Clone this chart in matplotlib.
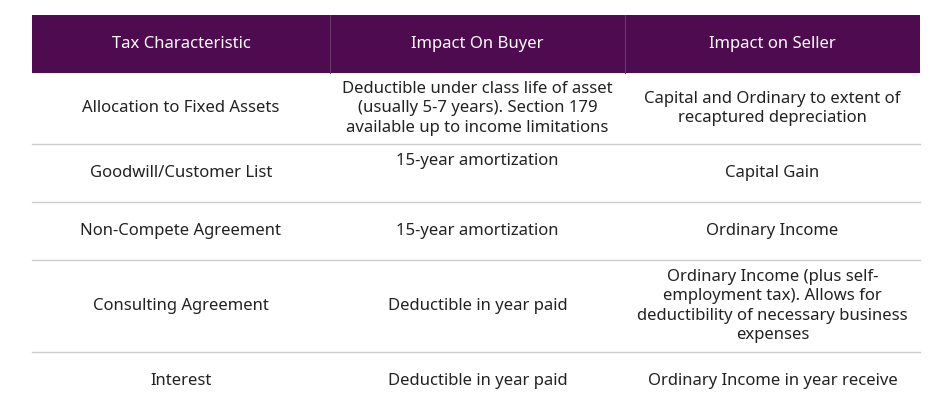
import matplotlib.pyplot as plt
from matplotlib.patches import Rectangle

# ================== DATA ==================
HEADERS = ["Tax Characteristic", "Impact On Buyer", "Impact on Seller"]
CHARACTERISTICS = [
    "Allocation to Fixed Assets",
    "Goodwill/Customer List",
    "Non-Compete Agreement",
    "Consulting Agreement",
    "Interest",
]
BUYER_IMPACT = [
    "Deductible under class life of asset\n(usually 5-7 years). Section 179\navailable up to income limitations",
    "15-year amortization",
    "15-year amortization",
    "Deductible in year paid",
    "Deductible in year paid",
]
SELLER_IMPACT = [
    "Capital and Ordinary to extent of\nrecaptured depreciation",
    "Capital Gain",
    "Ordinary Income",
    "Ordinary Income (plus self-\nemployment tax). Allows for\ndeductibility of necessary business\nexpenses",
    "Ordinary Income in year receive",
]

# ================== LAYOUT (pixels) ==================
W, H = 940, 416
X_EDGES = [32, 330, 625, 920]
HEADER_Y = (15, 73)
ROW_EDGES = [73, 144, 202, 260, 352, 410]
PURPLE = "#4E0B50"
FONT = "Noto Sans"
FS = 12

fig = plt.figure(figsize=(W / 100, H / 100), dpi=100)
ax = fig.add_axes([0, 0, 1, 1])
ax.set_xlim(0, W)
ax.set_ylim(H, 0)
ax.axis("off")

# header
ax.add_patch(Rectangle((X_EDGES[0], HEADER_Y[0]), X_EDGES[-1] - X_EDGES[0],
                       HEADER_Y[1] - HEADER_Y[0], color=PURPLE, lw=0))
for x in X_EDGES[1:-1]:
    ax.plot([x, x], HEADER_Y, color="#6a3a6c", lw=0.8)
hy = sum(HEADER_Y) / 2
for i, h in enumerate(HEADERS):
    xc = (X_EDGES[i] + X_EDGES[i + 1]) / 2
    ax.text(xc, hy, h, color="white", ha="center", va="center",
            fontsize=FS, family=FONT)

# rows
for r in range(len(CHARACTERISTICS)):
    y0, y1 = ROW_EDGES[r], ROW_EDGES[r + 1]
    yc = (y0 + y1) / 2
    if r < len(CHARACTERISTICS) - 1:
        ax.plot([X_EDGES[0], X_EDGES[-1]], [y1, y1], color="#cccccc", lw=1)
    cells = [CHARACTERISTICS[r], BUYER_IMPACT[r], SELLER_IMPACT[r]]
    for i, txt in enumerate(cells):
        xc = (X_EDGES[i] + X_EDGES[i + 1]) / 2
        ty = yc
        if r == 1 and i == 1:
            ty = y0 + 17  # buyer text sits high in this row
        ax.text(xc, ty, txt, color="#222222", ha="center", va="center",
                fontsize=FS, family=FONT, linespacing=1.3)

fig.savefig("out.png", dpi=100)
